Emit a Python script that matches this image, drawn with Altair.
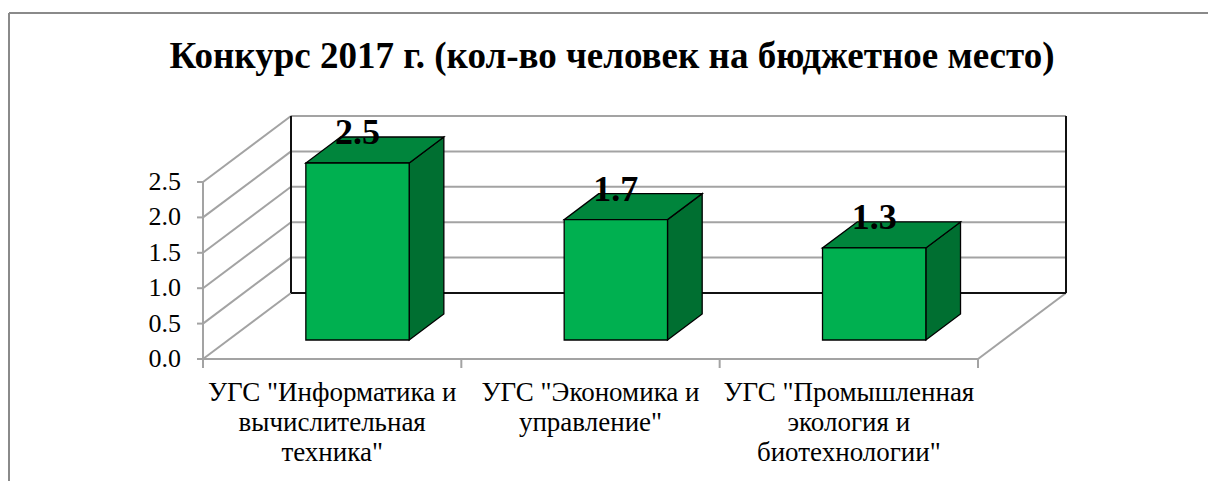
import altair as alt
import pandas as pd

# ---------------- data ----------------
label_lines = [
    ['УГС "Информатика и', 'вычислительная', 'техника"'],
    ['УГС "Экономика и', 'управление"'],
    ['УГС "Промышленная', 'экология и', 'биотехнологии"'],
]
values = [2.5, 1.7, 1.3]
ticks = [0.0, 0.5, 1.0, 1.5, 2.0, 2.5]
title_text = "Конкурс 2017 г. (кол-во человек на бюджетное место)"

# ---------------- geometry / style ----------------
PX_CAT = 258.33          # pixels per category on the front floor edge
PX_VAL = 70.8            # pixels per value unit
DEPTH_X_PX, DEPTH_Y_PX = 88, 66
N = len(values)
YMAX = ticks[-1]
DX = DEPTH_X_PX / PX_CAT
DY = DEPTH_Y_PX / PX_VAL
W = round((N + DX) * PX_CAT)
H = round(YMAX * PX_VAL + DEPTH_Y_PX)
LEFT, TOP = 203, 116
F1, F2 = 0.288, 0.682    # front / back depth of the columns
BW = 0.4                 # column width in category units
FONT = "Liberation Serif"
GRAY = "#a3a3a3"
BLACK = "#111111"

xs = alt.Scale(domain=[0, N + DX], nice=False, zero=False)
ys = alt.Scale(domain=[0, YMAX + DY], nice=False, zero=False)

# ---------------- walls, floor, gridlines ----------------
segs = []
for t in ticks:
    segs.append(dict(x=0, y=t, x2=DX, y2=t + DY, c="gray"))
for t in ticks[1:]:
    segs.append(dict(x=DX, y=t + DY, x2=N + DX, y2=t + DY, c="gray"))
segs.append(dict(x=0, y=0, x2=0, y2=YMAX, c="gray"))
segs.append(dict(x=0, y=0, x2=N, y2=0, c="gray"))
segs.append(dict(x=N, y=0, x2=N + DX, y2=DY, c="gray"))
segs.append(dict(x=DX, y=DY, x2=N + DX, y2=DY, c="black"))
segs.append(dict(x=DX, y=DY, x2=DX, y2=YMAX + DY, c="black"))
segs.append(dict(x=N + DX, y=DY, x2=N + DX, y2=YMAX + DY, c="black"))
seg_df = pd.DataFrame(segs)

walls = alt.Chart(seg_df).mark_rule(strokeWidth=2).encode(
    x=alt.X("x:Q", scale=xs, axis=None),
    x2="x2:Q",
    y=alt.Y("y:Q", scale=ys, axis=None),
    y2="y2:Q",
    color=alt.Color("c:N", scale=alt.Scale(domain=["gray", "black"], range=[GRAY, BLACK]), legend=None),
)

# x ticks below the floor front edge
xtick_df = pd.DataFrame({"x": list(range(N + 1))})
xticks = alt.Chart(xtick_df).mark_rule(color=GRAY, strokeWidth=2).encode(
    x=alt.X("x:Q", scale=xs, axis=None),
    y=alt.value(H),
    y2=alt.value(H + 9),
)

# y axis: ticks and labels on the front edge of the left wall
ytick_df = pd.DataFrame({"y": ticks})
yticks = alt.Chart(ytick_df).mark_rule(color=GRAY, strokeWidth=2).encode(
    y=alt.Y("y:Q", scale=ys, axis=None),
    x=alt.value(-6),
    x2=alt.value(0),
)
ylabels = alt.Chart(ytick_df).mark_text(
    font=FONT, fontSize=26, color="black", align="right", baseline="middle"
).encode(
    y=alt.Y("y:Q", scale=ys, axis=None),
    x=alt.value(-22),
    text=alt.Text("y:Q", format=".1f"),
)

# ---------------- 3D columns ----------------
front_rows, side_rows, top_rows, lab_rows = [], [], [], []
for i, v in enumerate(values):
    L = i + 0.5 - BW / 2
    R = i + 0.5 + BW / 2
    front_rows.append(dict(b=i, x=L + F1 * DX, x2=R + F1 * DX, y=F1 * DY, y2=v + F1 * DY))
    for f in (F1, F2):
        side_rows.append(dict(b=i, x=R + f * DX, y=f * DY, y2=v + f * DY))
        top_rows.append(dict(b=i, y=v + f * DY, x=L + f * DX, x2=R + f * DX))
    lab_rows.append(dict(x=i + 0.5 + F1 * DX, y=v + F1 * DY, v=v))

side = alt.Chart(pd.DataFrame(side_rows)).mark_area(
    orient="vertical", color="#006f31", stroke="black", strokeWidth=1.3
).encode(
    x=alt.X("x:Q", scale=xs, axis=None),
    y=alt.Y("y:Q", scale=ys, axis=None),
    y2="y2:Q",
    detail="b:N",
)

top = alt.Chart(pd.DataFrame(top_rows)).mark_area(
    orient="horizontal", color="#00853c", stroke="black", strokeWidth=1.3
).encode(
    y=alt.Y("y:Q", scale=ys, axis=None),
    x=alt.X("x:Q", scale=xs, axis=None),
    x2="x2:Q",
    detail="b:N",
)

front = alt.Chart(pd.DataFrame(front_rows)).mark_rect(
    color="#00b050", stroke="black", strokeWidth=1.3
).encode(
    x=alt.X("x:Q", scale=xs, axis=None),
    x2="x2:Q",
    y=alt.Y("y:Q", scale=ys, axis=None),
    y2="y2:Q",
)

labels = alt.Chart(pd.DataFrame(lab_rows)).mark_text(
    font=FONT, fontSize=36, fontWeight="bold", color="black",
    baseline="alphabetic", align="center", dy=-19
).encode(
    x=alt.X("x:Q", scale=xs, axis=None),
    y=alt.Y("y:Q", scale=ys, axis=None),
    text=alt.Text("v:Q", format=".1f"),
)

# ---------------- category labels ----------------
cat_df = pd.DataFrame({
    "x": [i + 0.5 for i in range(N)],
    "t": ["\n".join(lines) for lines in label_lines],
})
cats = alt.Chart(cat_df).mark_text(
    font=FONT, fontSize=27, color="black", align="center", baseline="top",
    lineBreak="\n", lineHeight=30
).encode(
    x=alt.X("x:Q", scale=xs, axis=None),
    y=alt.value(H + 21),
    text="t:N",
)

# ---------------- title & outer frame ----------------
title = alt.Chart(pd.DataFrame({"t": [title_text]})).mark_text(
    font=FONT, fontSize=37, fontWeight="bold", color="black",
    align="center", baseline="alphabetic"
).encode(
    x=alt.value(612 - LEFT),
    y=alt.value(68 - TOP),
    text="t:N",
)

frame_left = alt.Chart(pd.DataFrame({"a": [0]})).mark_rule(color="#8a8a8a", strokeWidth=2).encode(
    x=alt.value(9 - LEFT), y=alt.value(13 - TOP), y2=alt.value(481 - TOP)
)
frame_top = alt.Chart(pd.DataFrame({"a": [0]})).mark_rule(color="#8a8a8a", strokeWidth=2).encode(
    x=alt.value(9 - LEFT), x2=alt.value(1208 - LEFT), y=alt.value(13 - TOP)
)

chart = alt.layer(
    frame_left, frame_top, walls, xticks, yticks, ylabels, side, top, front, labels, cats, title
).properties(
    width=W, height=H,
    autosize=alt.AutoSizeParams(type="none"),
    padding={"left": LEFT, "top": TOP, "right": 1208 - LEFT - W, "bottom": 481 - TOP - H},
    background="white",
).configure_view(stroke=None)

chart.save("out.html", embed_options={"renderer": "svg", "actions": False})
